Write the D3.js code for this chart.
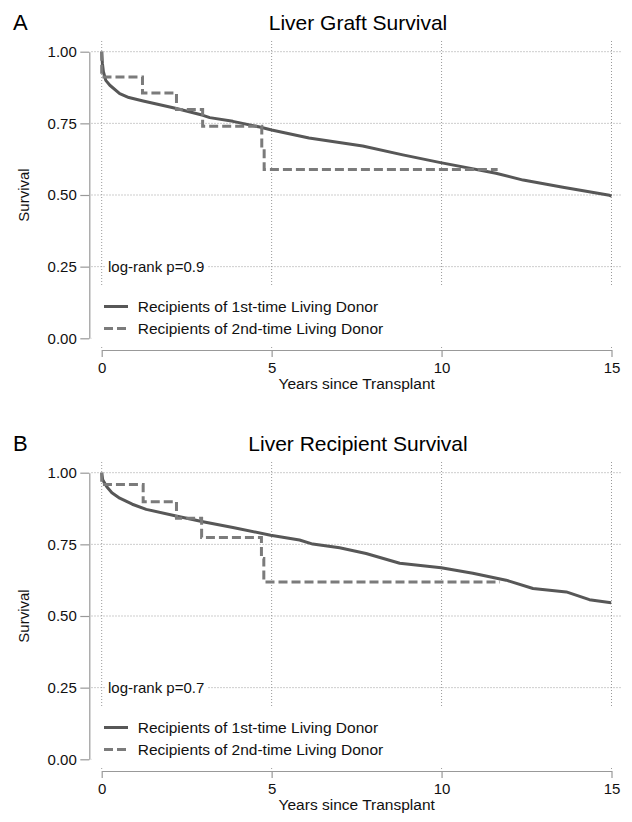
<!DOCTYPE html>
<html>
<head>
<meta charset="utf-8">
<script src="https://cdn.jsdelivr.net/npm/d3@7/dist/d3.min.js"></script>
<style>
  body { margin: 0; background: #fff; }
  svg { display: block; font-family: "Liberation Sans", Arial, sans-serif; }
</style>
</head>
<body>
<svg id="chart" width="632" height="822"></svg>
<script>
// ---- data ----
var panelLetters = ["A", "B"];
var panelTitles = ["Liver Graft Survival", "Liver Recipient Survival"];
var logRankText = ["log-rank p=0.9", "log-rank p=0.7"];
var seriesNames = ["Recipients of 1st-time Living Donor", "Recipients of 2nd-time Living Donor"];
var xTicks = [0, 5, 10, 15];
var yTicks = [0, 0.25, 0.5, 0.75, 1];

// graft survival, 1st-time donor (years, survival)
var graftFirstYears = [0, 0.02, 0.05, 0.12, 0.24, 0.53, 0.8, 1.22, 2.2, 2.98, 3.18, 3.86, 4.65, 5.0, 6.1, 7.68, 8.86, 9.97, 11.6, 12.4, 13.57, 14.94, 15.0];
var graftFirstSurv  = [1, 0.96, 0.93, 0.90, 0.883, 0.854, 0.84, 0.828, 0.802, 0.778, 0.77, 0.757, 0.737, 0.727, 0.699, 0.671, 0.64, 0.613, 0.576, 0.552, 0.527, 0.499, 0.496];
// graft survival, 2nd-time donor (step function)
var graftSecondYears = [0, 0, 1.2, 2.2, 2.97, 4.71, 4.78, 11.65];
var graftSecondSurv  = [1, 0.912, 0.856, 0.798, 0.740, 0.663, 0.589, 0.589];

// recipient survival, 1st-time donor
var recipFirstYears = [0, 0.03, 0.15, 0.3, 0.53, 0.9, 1.31, 2.19, 2.98, 3.86, 4.97, 5.82, 6.21, 7.0, 7.78, 8.77, 9.99, 10.92, 11.9, 12.69, 13.67, 14.35, 14.99];
var recipFirstSurv  = [1, 0.975, 0.951, 0.93, 0.911, 0.89, 0.872, 0.849, 0.829, 0.809, 0.782, 0.765, 0.751, 0.738, 0.718, 0.684, 0.668, 0.649, 0.625, 0.596, 0.584, 0.557, 0.546];
// recipient survival, 2nd-time donor (step function)
var recipSecondYears = [0, 0, 1.22, 2.2, 2.94, 4.70, 4.77, 11.72];
var recipSecondSurv  = [1, 0.959, 0.899, 0.841, 0.774, 0.701, 0.619, 0.619];

var firstYears = [graftFirstYears, recipFirstYears];
var firstSurv = [graftFirstSurv, recipFirstSurv];
var secondYears = [graftSecondYears, recipSecondYears];
var secondSurv = [graftSecondSurv, recipSecondSurv];

// ---- layout ----
var panelTop = [0, 421];
var solidColor = "#575757", dashColor = "#7b7b7b", gridColor = "#9a9a9a", axisColor = "#999999";
var fontFamily = "'Liberation Sans', Arial, sans-serif";

var x = d3.scaleLinear().domain([0, 15]).range([101.7, 611.5]);
var y = d3.scaleLinear().domain([0, 1]).range([338.3, 51.7]);
var regionLeft = 91.5, regionRight = 622.5, regionTop = 41, regionBottom = 349;

var svg = d3.select("#chart");

function zip(a, b){
    return a.map(function(v, i){ return [v, b[i]]; });
}

for (var p = 0; p < 2; p++) {
    var g = svg.append("g").attr("transform", "translate(0," + panelTop[p] + ")");

// Letter & title
    g.append("text")
        .text(panelLetters[p])
        .attr("x", 13)
        .attr("y", 29.5)
        .attr("font-size", 22)
        .attr("fill", "#000");
    g.append("text")
        .text(panelTitles[p])
        .attr("x", 358)
        .attr("y", 30)
        .attr("font-size", 21)
        .attr("text-anchor", "middle")
        .attr("fill", "#000");

// Grid
    var grid = g.append("g");
    grid.selectAll("line.h")
        .data(yTicks)
        .enter().append("line")
        .attr("class", "h")
        .attr("x1", regionLeft).attr("x2", regionRight)
        .attr("y1", function(d){ return y(d); })
        .attr("y2", function(d){ return y(d); });
    grid.selectAll("line.v")
        .data(xTicks)
        .enter().append("line")
        .attr("class", "v")
        .attr("x1", function(d){ return x(d); })
        .attr("x2", function(d){ return x(d); })
        .attr("y1", regionTop).attr("y2", regionBottom);
    grid.selectAll("line")
        .style("stroke", gridColor)
        .style("stroke-width", "1px")
        .style("stroke-dasharray", "1,2");

// Axes
    var yAxis = d3.axisLeft(y)
        .tickValues(yTicks)
        .tickFormat(d3.format(".2f"))
        .tickSize(9)
        .tickSizeOuter(0)
        .tickPadding(3.5);
    var yg = g.append("g")
        .attr("transform", "translate(89.3,0)")
        .call(yAxis);
    var xAxis = d3.axisBottom(x)
        .tickValues(xTicks)
        .tickSize(7)
        .tickSizeOuter(0)
        .tickPadding(5);
    var xg = g.append("g")
        .attr("transform", "translate(0,350)")
        .call(xAxis);
    [yg, xg].forEach(function(a){
        a.select(".domain").style("stroke", axisColor).style("stroke-width", "1.2px");
        a.selectAll(".tick line").style("stroke", axisColor).style("stroke-width", "1.2px");
        a.selectAll(".tick text")
            .attr("font-size", 15)
            .attr("font-family", fontFamily)
            .attr("fill", "#111");
    });

    g.append("text")
        .text("Years since Transplant")
        .attr("x", 356.7)
        .attr("y", 389)
        .attr("font-size", 15.5)
        .attr("text-anchor", "middle")
        .attr("fill", "#111");
    g.append("text")
        .text("Survival")
        .attr("transform", "translate(28.5,195) rotate(-90)")
        .attr("font-size", 15)
        .attr("text-anchor", "middle")
        .attr("fill", "#111");

// Curves
    var solidLine = d3.line()
        .x(function(d){ return x(d[0]); })
        .y(function(d){ return y(d[1]); });
    var stepLine = d3.line()
        .x(function(d){ return x(d[0]); })
        .y(function(d){ return y(d[1]); })
        .curve(d3.curveStepAfter);

    g.append("path")
        .datum(zip(firstYears[p], firstSurv[p]))
        .attr("d", solidLine)
        .attr("fill", "none")
        .style("stroke", solidColor)
        .style("stroke-width", "3px")
        .style("stroke-linejoin", "round");
    g.append("path")
        .datum(zip(secondYears[p], secondSurv[p]))
        .attr("d", stepLine)
        .attr("fill", "none")
        .style("stroke", dashColor)
        .style("stroke-width", "3px")
        .style("stroke-dasharray", "9,4");

// log-rank note
    g.append("rect")
        .attr("x", 106)
        .attr("y", 258)
        .attr("width", 102)
        .attr("height", 17)
        .attr("fill", "#fff");
    g.append("text")
        .text(logRankText[p])
        .attr("x", 108)
        .attr("y", 271.5)
        .attr("font-size", 15)
        .attr("fill", "#111");

// Legend
    g.append("rect")
        .attr("x", regionLeft)
        .attr("y", 287)
        .attr("width", regionRight - regionLeft)
        .attr("height", 58)
        .attr("fill", "#fff");
    var rows = [306.5, 328.5];
    seriesNames.forEach(function(name, i){
        g.append("line")
            .attr("x1", 104).attr("x2", 128)
            .attr("y1", rows[i]).attr("y2", rows[i])
            .style("stroke", i == 0 ? solidColor : dashColor)
            .style("stroke-width", "3px")
            .style("stroke-dasharray", i == 0 ? null : "9,4");
        g.append("text")
            .text(name)
            .attr("x", 137.7)
            .attr("y", rows[i])
            .attr("dy", "0.36em")
            .attr("font-size", 15.5)
            .attr("fill", "#111");
    });
}
</script>
</body>
</html>
